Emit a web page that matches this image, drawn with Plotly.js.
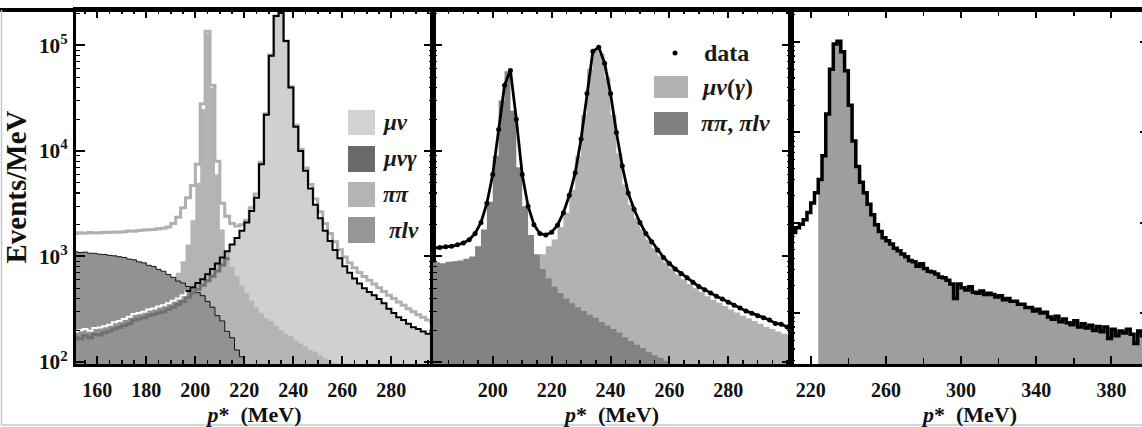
<!DOCTYPE html>
<html><head><meta charset="utf-8">
<script src="https://cdn.plot.ly/plotly-3.0.1.min.js"></script>
<style>html,body{margin:0;padding:0;overflow:hidden;background:#fff;width:1142px;height:427px}#chart{width:1150px;height:427px}</style>
</head><body><div id="chart"></div>
<script>
// ---------- data (Events/MeV) ----------
// Panel 1: 2 MeV bins starting at 150 MeV
const P1_START = 150, P1_BIN = 2;
const muNu = [195,200,205,198,210,212,218,225,238,245,
  255,268,285,292,300,315,322,335,345,360,
  380,400,430,470,510,560,610,680,760,860,
  980,1120,1300,1500,1750,2100,2700,3600,7500,22000,
  80000,190000,205000,110000,40000,17000,10000,6500,4400,3100,
  2300,1750,1400,1150,960,810,700,620,555,500,
  460,430,395,360,320,292,265,250,230,214,
  206,195,185,190];
const piPi = [330,340,335,340,345,350,355,360,365,370,
  380,390,400,410,420,430,450,470,500,540,
  600,700,900,1300,2200,5000,25000,130000,40000,6000,
  1800,1100,800,650,530,450,380,330,290,260,
  245,220,200,185,175,160,150,140,130,125,
  115,108,103,98,94,90,86,83,80,78,
  75,72,70,68,66,64,62,60,58,56,
  55,54,53,52];
const piLNu = [1110,1090,1100,1075,1070,1050,1045,1025,1015,995,
  980,945,930,890,870,825,805,755,725,675,
  635,585,560,520,500,455,425,375,330,275,
  245,195,170,130,112,85];
const muNuGamma = [170,165,178,170,182,180,190,196,205,212,
  222,230,248,255,262,275,282,292,300,315,
  330,350,375,410,450,490,535,590,650,730,
  830,950];
const p1Total = [1650,1680,1660,1690,1670,1680,1700,1690,1710,1700,
  1720,1740,1730,1760,1780,1790,1800,1830,1850,1900,
  2050,2350,2900,3600,4700,7500,28000,136000,42000,8000,
  3200,2400,2050,1950,2000,2200,2900,3900,7800,22500,
  81000,190000,205000,110000,40500,17500,10400,6900,4800,3500,
  2650,2050,1650,1380,1160,990,870,780,705,645,
  595,550,505,465,430,400,370,345,320,300,
  280,265,250,240];
const P1_WHITE_BINS = 25, P1_BLACK_FROM = 23;

// Panel 2: 2 MeV bins starting at 178 MeV, data points every 2 MeV from 180
const P2_START = 178, P2_BIN = 2;
const p2MuNuGamma = [250,260,270,280,290,300,320,340,370,400,
  440,480,530,590,660,740,830,900,950,1050,
  1250,1450,1900,2600,4300,9000,22000,60000,90000,84000,
  50000,22000,9500,4800,3100,2300,1800,1450,1200,1020,
  880,770,680,610,550,500,460,420,390,365,
  340,315,295,275,260,245,230,215,205,195,
  185,180];
const p2PiPiPiLNu = [870,880,865,890,900,915,950,1000,1250,1800,
  3300,9000,30000,57000,24000,7000,3000,1600,1050,760,
  620,520,450,400,360,330,305,280,262,240,
  222,205,190,172,158,146,136,125,116,110,
  103,96,92,88,85,82,80,78,75,73,
  71,69,67,65,63,61,60,59,58,57,
  56,55];
const P2_DATA_START = 180, P2_DATA_STEP = 2;
const p2Data = [1200,1215,1235,1250,1290,1340,1440,1650,2100,3200,
  6000,16000,42000,58000,20000,6000,3000,2000,1650,1600,
  1700,1980,2600,3800,6200,13000,35000,88000,96000,68000,
  35000,15000,7200,4000,2800,2100,1650,1380,1150,980,
  860,760,690,630,570,520,485,450,420,395,
  368,345,325,305,290,275,262,250,232,228,
  215];

// Panel 3: 2 MeV bins starting at 210 MeV
const P3_START = 210, P3_BIN = 2, P3_FILL_FROM = 224;
const p3Data = [78,88,96,108,130,165,215,300,550,1600,
  5000,9500,10200,7800,4800,2000,800,420,280,215,
  160,122,95,80,68,63,58,52,49,45,
  42,38,37,33,35,31,29,28.5,27,25,
  24.5,23,21,14.5,21,19,18,19.5,17,16.5,
  17.5,16,16.5,16,15,15.5,14,14.5,13.5,13.5,
  12.5,12.5,11.5,11.5,10.5,11,10,10.2,9,8.5,
  9.2,8,8.6,7.8,7.4,8.2,7,7.6,6.8,7.3,
  6.4,7.1,6.2,7,5.2,6.6,5.6,6.3,6,6.6,
  5.8,4.6,6.3,5.6,6];

// tick labels and legend texts
const p1TickVals = [160,180,200,220,240,260,280];
const p2TickVals = [200,220,240,260,280];
const p3TickVals = [220,260,300,340,380];
const legend1Labels = ['<i>μν</i>','<i>μνγ</i>','<i>ππ</i>','<i>πlν</i>'];
const legend1Colors = ['#d2d2d2','#6a6a6a','#b4b4b4','#969696'];
const legend2Labels = ['data','<i>μν</i>(<i>γ</i>)','<i>ππ</i>, <i>πlν</i>'];
const xTitle = '<i>p</i>*\u2002(MeV)';
const yTitle = 'Events/MeV';

// ---------- helpers ----------
function step(start, w, vals){
  const x = [], y = [];
  vals.forEach((v,i)=>{ x.push(start + i*w); y.push(v); });
  x.push(start + vals.length*w); y.push(vals[vals.length-1]);
  return {x, y};
}
function pts(start, w, vals){ return {x: vals.map((v,i)=>start+i*w), y: vals}; }

const FONT = 'Liberation Serif';
const traces = [];
function fillTrace(s, xa, ya, color, line){
  return {x: s.x, y: s.y, xaxis: xa, yaxis: ya, type: 'scatter', mode: 'lines',
    line: Object.assign({shape:'hv', width:0, color: color}, line || {}),
    fill: 'tozeroy', fillcolor: color, hoverinfo: 'skip', showlegend: false};
}
function lineTrace(s, xa, ya, color, width){
  return {x: s.x, y: s.y, xaxis: xa, yaxis: ya, type: 'scatter', mode: 'lines',
    line: {shape:'hv', width: width, color: color}, hoverinfo: 'skip', showlegend: false};
}

// Panel 1
traces.push(fillTrace(step(P1_START, P1_BIN, muNu), 'x', 'y', '#d0d0d0'));
traces.push(fillTrace(step(P1_START, P1_BIN, piPi), 'x', 'y', '#b4b4b4'));
traces.push(fillTrace(step(P1_START, P1_BIN, piLNu), 'x', 'y', '#929292', {width:1, color:'#111'}));
traces.push(lineTrace(step(P1_START, P1_BIN, p1Total), 'x', 'y', '#b0b0b0', 3));
traces.push(lineTrace(step(P1_START, P1_BIN, muNuGamma), 'x', 'y', '#707070', 3));
traces.push(lineTrace(step(P1_START, P1_BIN, muNu.slice(0, P1_WHITE_BINS)), 'x', 'y', '#ffffff', 2));
traces.push(lineTrace(step(P1_START + P1_BLACK_FROM*P1_BIN, P1_BIN, muNu.slice(P1_BLACK_FROM)), 'x', 'y', '#000000', 2));

// Panel 2
traces.push(fillTrace(step(P2_START, P2_BIN, p2MuNuGamma), 'x2', 'y2', '#b2b2b2'));
traces.push(fillTrace(step(P2_START, P2_BIN, p2PiPiPiLNu), 'x2', 'y2', '#828282'));
const d2 = pts(P2_DATA_START, P2_DATA_STEP, p2Data);
traces.push({x: d2.x, y: d2.y, xaxis:'x2', yaxis:'y2', type:'scatter', mode:'lines+markers',
  line:{color:'#000', width:2.8}, marker:{color:'#000', size:5}, hoverinfo:'skip', showlegend:false});

// Panel 3
const fromIdx = (P3_FILL_FROM - P3_START)/P3_BIN;
traces.push(fillTrace(step(P3_FILL_FROM, P3_BIN, p3Data.slice(fromIdx)), 'x3', 'y3', '#9e9e9e'));
traces.push(lineTrace(step(P3_START, P3_BIN, p3Data), 'x3', 'y3', '#000000', 3.5));

// ---------- layout ----------
const L = 76, R = 1149, TOP = 10, BOT = 364;
const W = R - L, H = BOT - TOP;
const px = v => (v - L)/W, py = v => (BOT - v)/H;
const d1 = [0, px(433)], d2d = [px(433), px(791)], d3 = [px(791), 1];

const tickFontX = {family: FONT, size: 20, weight: 'bold', color: '#111'};
function xAxis(domain, range, anchor, tickvals, minorStep, minorLen){
  return {domain, range, anchor, tickmode:'array', tickvals, ticktext: tickvals.map(String),
    ticks:'inside', ticklen:8, tickwidth:2, tickcolor:'#000',
    minor:{ticks:'inside', ticklen:minorLen, tickwidth:1.5, tickcolor:'#000', dtick:minorStep, tick0:0, showgrid:false},
    showline:true, linewidth:3, linecolor:'#000', mirror:'allticks', showgrid:false, zeroline:false,
    tickfont: tickFontX, ticklabelstandoff: 6,
    title:{text: xTitle, font:{family: FONT, size: 22, weight:'bold', color:'#111'}, standoff: 8}};
}
function yAxis(range, anchor, showLabels){
  return {type:'log', range, anchor, tickmode:'linear', tick0:0, dtick:1, exponentformat:'power',
    showticklabels: showLabels, ticks:'inside', ticklen:9, tickwidth:2, tickcolor:'#000',
    minor:{ticks:'inside', ticklen:4, tickwidth:1.2, tickcolor:'#000', dtick:'D1', showgrid:false},
    showline:true, linewidth:3, linecolor:'#000', mirror:'allticks', showgrid:false, zeroline:false,
    tickfont:{family: FONT, size: 17, weight:'bold', color:'#111'}, ticklabelstandoff: 2,
    domain:[0,1]};
}
const ya1 = yAxis([1.981, 5.336], 'x', true);
ya1.title = {text: yTitle, font:{family: FONT, size: 29, weight:'bold', color:'#111'}, standoff: 4};

const shapes = [
  {type:'line', xref:'paper', yref:'paper', x0: px(0), x1: px(1150), y0: 1, y1: 1, line:{color:'#000', width:4}},
  {type:'line', xref:'paper', yref:'paper', x0: px(1.5), x1: px(1.5), y0: py(10), y1: py(425), line:{color:'#c8c8c8', width:1.5}},
  {type:'line', xref:'paper', yref:'paper', x0: px(1.5), x1: px(1150), y0: py(425), y1: py(425), line:{color:'#c8c8c8', width:1.5}}
];
const annotations = [];
const leg1Y = [[110,135],[146,172],[182,207],[217,243]];
const leg1TextX = [381,381,381,387];
legend1Labels.forEach((t,i)=>{
  shapes.push({type:'rect', xref:'paper', yref:'paper', x0:px(348), x1:px(375), y0:py(leg1Y[i][1]), y1:py(leg1Y[i][0]),
    fillcolor: legend1Colors[i], line:{width:0}});
  annotations.push({xref:'paper', yref:'paper', x:px(leg1TextX[i]), y:py((leg1Y[i][0]+leg1Y[i][1])/2), text:t,
    xanchor:'left', yanchor:'middle', showarrow:false, font:{family: FONT, size:23, weight:'bold', color:'#1a1a1a'}});
});
// panel 2 legend
shapes.push({type:'circle', xref:'paper', yref:'paper', x0:px(672.5), x1:px(677.5), y0:py(55.5), y1:py(50.5), fillcolor:'#000', line:{width:0}});
const leg2Y = [[43,63],[76,98],[112,135]];
const leg2Colors = [null,'#b2b2b2','#818181'];
legend2Labels.forEach((t,i)=>{
  if(leg2Colors[i]) shapes.push({type:'rect', xref:'paper', yref:'paper', x0:px(654), x1:px(688), y0:py(leg2Y[i][1]), y1:py(leg2Y[i][0]),
    fillcolor: leg2Colors[i], line:{width:0}});
  annotations.push({xref:'paper', yref:'paper', x:px(i===0?702:699), y:py((leg2Y[i][0]+leg2Y[i][1])/2), text:t,
    xanchor:'left', yanchor:'middle', showarrow:false, font:{family: FONT, size:24, weight:'bold', color:'#1a1a1a'}});
});

const layout = {
  width: 1150, height: 427,
  margin: {l: L, r: 1150 - R, t: TOP, b: 427 - BOT, pad: 0},
  paper_bgcolor: '#fff', plot_bgcolor: '#fff',
  font: {family: FONT, color: '#111'},
  showlegend: false,
  xaxis: xAxis(d1, [151.3, 297], 'y', p1TickVals, 5, 4),
  xaxis2: xAxis(d2d, [179.7, 301.3], 'y2', p2TickVals, 5, 4),
  xaxis3: xAxis(d3, [209.5, 400], 'y3', p3TickVals, 20, 6),
  yaxis: ya1,
  yaxis2: yAxis([1.981, 5.336], 'x2', false),
  yaxis3: yAxis([0.435, 4.355], 'x3', false),
  shapes, annotations
};
Plotly.newPlot('chart', traces, layout, {staticPlot: true, displayModeBar: false});
</script></body></html>
